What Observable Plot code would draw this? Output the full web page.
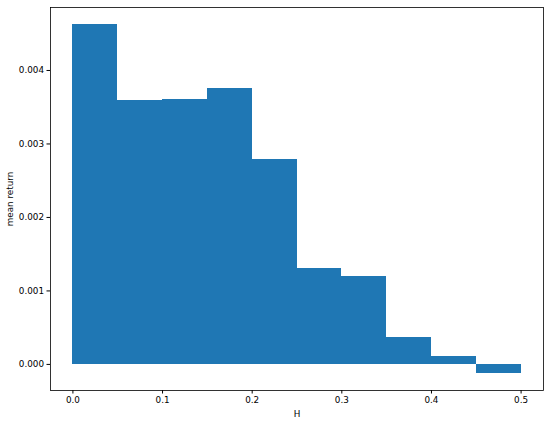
<!DOCTYPE html>
<html>
<head>
<meta charset="utf-8">
<script src="https://cdn.jsdelivr.net/npm/d3@7"></script>
<script src="https://cdn.jsdelivr.net/npm/@observablehq/plot@0.6"></script>
<style>
  html, body { margin: 0; padding: 0; background: #fff; }
  svg { font-family: "DejaVu Sans", sans-serif; }
</style>
</head>
<body>
<div id="chart"></div>
<script>
const binLeft = [0.00, 0.05, 0.10, 0.15, 0.20, 0.25, 0.30, 0.35, 0.40, 0.45];
const binRight = [0.05, 0.10, 0.15, 0.20, 0.25, 0.30, 0.35, 0.40, 0.45, 0.50];
const meanReturn = [0.00462, 0.00359, 0.00361, 0.003755, 0.00279, 0.00130, 0.00120, 0.00037, 0.00011, -0.000118];
const xTicks = [0.0, 0.1, 0.2, 0.3, 0.4, 0.5];
const yTicks = [0.000, 0.001, 0.002, 0.003, 0.004];

const data = binLeft.map((x1, i) => ({x1, x2: binRight[i], y: meanReturn[i]}));

const chart = Plot.plot({
  width: 550,
  height: 423,
  marginLeft: 50,
  marginTop: 7,
  marginRight: 7,
  marginBottom: 33,
  style: {fontFamily: "DejaVu Sans, sans-serif", fontSize: "8.8px", color: "#000", background: "#fff"},
  x: {domain: [-0.025, 0.525]},
  y: {domain: [-0.000355, 0.004857]},
  marks: [
    Plot.rectY(data, {x1: "x1", x2: "x2", y1: 0, y2: "y", fill: "#1f77b4", shapeRendering: "crispEdges", inset: 0}),
    Plot.frame({stroke: "#000", strokeWidth: 0.8}),
    Plot.axisX({ticks: xTicks, tickFormat: ".1f", tickSize: 3.5, tickPadding: 3, label: "H", labelAnchor: "center", labelArrow: "none", labelOffset: 26, fill: "#000"}),
    Plot.axisY({ticks: yTicks, tickFormat: ".3f", tickSize: 3.5, tickPadding: 3, label: "mean return", labelAnchor: "center", labelArrow: "none", labelOffset: 44, fill: "#000"})
  ]
});
document.getElementById("chart").appendChild(chart);
</script>
</body>
</html>
